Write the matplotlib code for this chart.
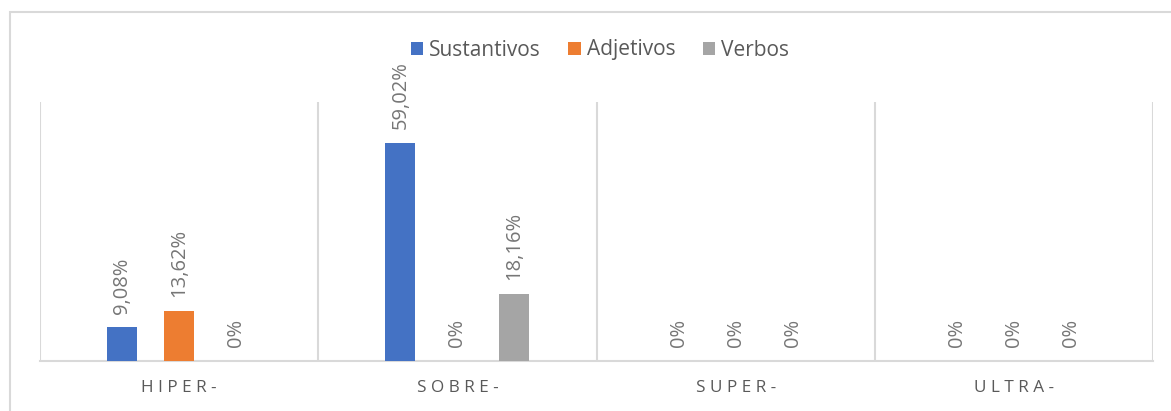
import numpy as np
import matplotlib.pyplot as plt
from matplotlib.patches import Rectangle

# prefijos y porcentajes por categoria gramatical
categorias = ["HIPER-", "SOBRE-", "SUPER-", "ULTRA-"]
series = ["Sustantivos", "Adjetivos", "Verbos"]
sustantivos = [9.08, 59.02, 0, 0]
adjetivos = [13.62, 0, 0, 0]
verbos = [0, 18.16, 0, 0]

colores = ["#4472C4", "#ED7D31", "#A5A5A5"]
gris_txt = "#595959"
gris_linea = "#D9D9D9"

plt.rcParams["font.family"] = ["Open Sans", "DejaVu Sans"]

W, H = 1171, 411
fig = plt.figure(figsize=(W / 100, H / 100), dpi=100)
ax = fig.add_axes([40 / W, (H - 361) / H, (1153 - 40) / W, (361 - 102) / H])

# borde del grafico (recortado a la derecha y abajo)
fig.patches.append(Rectangle((10 / W, -0.05), 1.2, (H - 12) / H + 0.05,
                             transform=fig.transFigure, fill=False,
                             edgecolor=gris_linea, linewidth=1.5))

x = np.arange(len(categorias))
ancho = 0.108
paso = 0.205
valores = [sustantivos, adjetivos, verbos]

for i, (nombre, vals, c) in enumerate(zip(series, valores, colores)):
    pos = x + (i - 1) * paso
    barras = ax.bar(pos, vals, width=ancho, color=c, label=nombre, zorder=3)
    for b, v in zip(barras, vals):
        txt = "0%" if v == 0 else f"{v:.2f}%".replace(".", ",")
        ax.annotate(txt, (b.get_x() + b.get_width() / 2, v),
                    xytext=(0, 10), textcoords="offset points",
                    rotation=90, ha="center", va="bottom",
                    fontsize=14.5, color="#767676")

ax.set_xlim(-0.5, len(categorias) - 0.5)
ax.set_ylim(0, 70)
ax.vlines(np.arange(len(categorias) + 1) - 0.5, 0, 70, color=gris_linea,
          linewidth=1.5, zorder=1)

for s in ["top", "right", "left"]:
    ax.spines[s].set_visible(False)
ax.spines["bottom"].set_color(gris_linea)
ax.spines["bottom"].set_linewidth(1.5)
ax.set_yticks([])
ax.set_xticks(x)
ax.set_xticklabels([" ".join(c) for c in categorias], fontsize=12.3, color=gris_txt)
ax.tick_params(axis="x", length=0, pad=14)

fig.legend(loc="center", bbox_to_anchor=(600 / W, 1 - 50 / H), ncol=3,
           frameon=False, fontsize=15, handlelength=0.6, handleheight=0.6,
           handletextpad=0.3, columnspacing=1.3, labelcolor=gris_txt)

fig.savefig("out.png", dpi=100)
